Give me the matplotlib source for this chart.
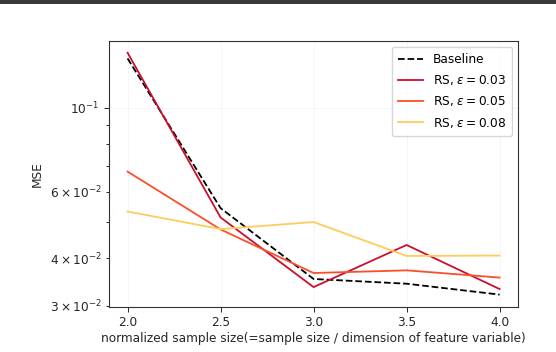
import matplotlib.pyplot as plt
from matplotlib.patches import Rectangle

SIZES = [2.0, 2.5, 3.0, 3.5, 4.0]
BASELINE = [0.1349, 0.0543, 0.0353, 0.0343, 0.0321]
RS_003 = [0.1396, 0.0513, 0.0336, 0.0434, 0.0332]
RS_005 = [0.0678, 0.0477, 0.0366, 0.0372, 0.0356]
RS_008 = [0.0532, 0.0478, 0.0499, 0.0406, 0.0407]

FS = 8.7

plt.rcParams["font.family"] = "DejaVu Sans"
plt.rcParams["mathtext.fontset"] = "dejavusans"

fig = plt.figure(figsize=(5.56, 3.52), dpi=100)
# dark strip along the top edge of the screenshot
fig.patches.append(Rectangle((0, 1 - 4 / 352), 1, 4 / 352, transform=fig.transFigure,
                             facecolor="#3a3a3a", edgecolor="none"))
ax = fig.add_axes([0.196, 0.1287, 0.736, 0.7557])

lw = 1.3
ax.plot(SIZES, BASELINE, color="black", ls="--", lw=lw, label="Baseline")
ax.plot(SIZES, RS_003, color="#c8102e", lw=lw, label=r"RS, $\varepsilon = 0.03$")
ax.plot(SIZES, RS_005, color="#fc4e2a", lw=lw, label=r"RS, $\varepsilon = 0.05$")
ax.plot(SIZES, RS_008, color="#fecc5c", lw=lw, label=r"RS, $\varepsilon = 0.08$")

ax.set_yscale("log")
ax.set_xticks(SIZES)
ax.set_xlabel("normalized sample size(=sample size / dimension of feature variable)",
              fontsize=FS, color="#262626", labelpad=2)
ax.set_ylabel("MSE", fontsize=FS, color="#262626")
ax.tick_params(which="both", labelsize=FS, colors="#262626", width=0.7)
ax.tick_params(which="major", length=3.5)
ax.tick_params(which="minor", length=2)
ax.grid(True, which="major", color="#f4f4f4", lw=0.6)
for s in ax.spines.values():
    s.set_color("#333333")
    s.set_linewidth(0.8)

ax.legend(loc="upper right", fontsize=FS, framealpha=0.8, edgecolor="#cccccc",
          handlelength=2.1, borderpad=0.5, labelspacing=0.6)

fig.savefig("out.png", dpi=100)
